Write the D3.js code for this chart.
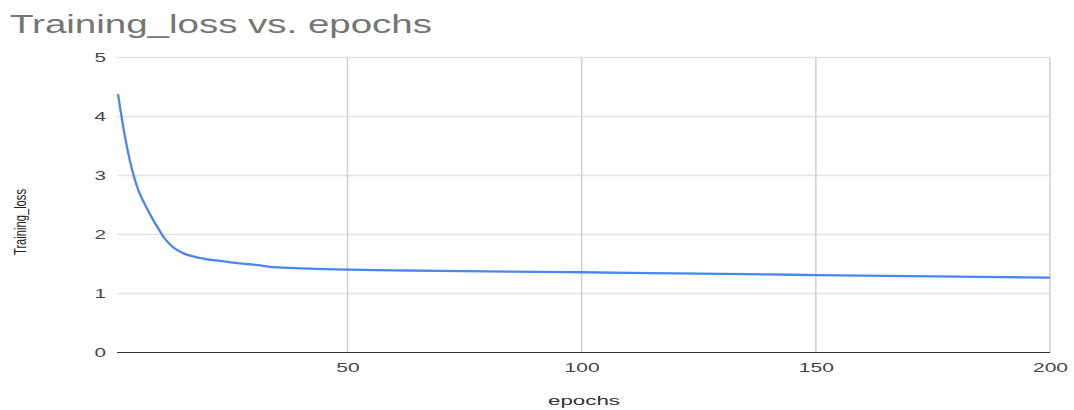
<!DOCTYPE html>
<html>
<head>
<meta charset="utf-8">
<script src="https://cdn.jsdelivr.net/npm/d3@7"></script>
<style>
  html, body { margin: 0; padding: 0; background: #fff; }
  svg { display: block; font-family: "Liberation Sans", Arial, sans-serif; }
</style>
</head>
<body>
<svg id="chart" width="1074" height="410"></svg>
<script>
const title = "Training_loss vs. epochs";
const xLabel = "epochs";
const yLabel = "Training_loss";
const epochs = [1,2,3,4,5,6,7,8,9,10,11,12,13,14,15,16,17,18,19,20,22,24,26,28,30,32,33,36,40,45,50,60,70,80,90,100,110,120,130,140,150,160,170,180,190,200];
const loss = [4.38,3.88,3.45,3.1,2.83,2.63,2.47,2.32,2.18,2.05,1.93,1.84,1.77,1.72,1.68,1.65,1.63,1.61,1.595,1.58,1.56,1.54,1.52,1.503,1.488,1.47,1.455,1.44,1.425,1.413,1.405,1.393,1.383,1.374,1.367,1.36,1.351,1.342,1.333,1.323,1.313,1.303,1.294,1.286,1.278,1.27];
const xTicks = [50, 100, 150, 200];
const yTicks = [0, 1, 2, 3, 4, 5];

const svg = d3.select("#chart");
const plotLeft = 117, plotRight = 1050, plotTop = 57.5, plotBottom = 352.5;

const x = d3.scaleLinear().domain([1, 200]).range([118, plotRight]);
const y = d3.scaleLinear().domain([0, 5]).range([plotBottom, plotTop]);

// horizontal gridlines
svg.append("g").selectAll("line").data(yTicks.filter(d => d > 0)).join("line")
  .attr("x1", plotLeft).attr("x2", plotRight)
  .attr("y1", d => y(d)).attr("y2", d => y(d))
  .attr("stroke", "#e3e3e3").attr("stroke-width", 1.5);

// vertical gridlines
svg.append("g").selectAll("line").data(xTicks).join("line")
  .attr("x1", d => x(d)).attr("x2", d => x(d))
  .attr("y1", plotTop).attr("y2", plotBottom)
  .attr("stroke", "#d0d0d0").attr("stroke-width", 1.5);

// x axis
const xAxis = svg.append("g").attr("transform", `translate(0,${plotBottom})`)
  .call(d3.axisBottom(x).tickValues(xTicks).tickSize(0).tickPadding(10).tickFormat(d3.format("d")));
xAxis.select(".domain").remove();
xAxis.selectAll("text")
  .attr("font-size", 13).attr("fill", "#444")
  .attr("font-family", "Liberation Sans, Arial, sans-serif")
  .attr("textLength", d => String(d).length * 11.7)
  .attr("lengthAdjust", "spacingAndGlyphs");

svg.append("line")
  .attr("x1", plotLeft).attr("x2", plotRight)
  .attr("y1", plotBottom).attr("y2", plotBottom)
  .attr("stroke", "#333").attr("stroke-width", 1.2);

// y axis
const yAxis = svg.append("g").attr("transform", `translate(${plotLeft},0)`)
  .call(d3.axisLeft(y).tickValues(yTicks).tickSize(0).tickPadding(11).tickFormat(d3.format("d")));
yAxis.select(".domain").remove();
yAxis.selectAll("text")
  .attr("font-size", 13).attr("fill", "#444")
  .attr("font-family", "Liberation Sans, Arial, sans-serif")
  .attr("textLength", 11.5)
  .attr("lengthAdjust", "spacingAndGlyphs");

// line
const line = d3.line().x((d, i) => x(epochs[i])).y(d => y(d)).curve(d3.curveMonotoneX);
svg.append("path").datum(loss)
  .attr("d", line)
  .attr("fill", "none")
  .attr("stroke", "#4a86f0")
  .attr("stroke-width", 2.3)
  .attr("stroke-linejoin", "round");

// title
svg.append("text")
  .attr("x", 10).attr("y", 33)
  .attr("font-size", 25).attr("fill", "#757575")
  .attr("textLength", 422).attr("lengthAdjust", "spacingAndGlyphs")
  .text(title);

// x label
svg.append("text")
  .attr("x", 584).attr("y", 405)
  .attr("text-anchor", "middle")
  .attr("font-size", 13).attr("fill", "#333")
  .attr("textLength", 72).attr("lengthAdjust", "spacingAndGlyphs")
  .text(xLabel);

// y label
svg.append("text")
  .attr("transform", "translate(26,222) rotate(-90)")
  .attr("text-anchor", "middle")
  .attr("font-size", 17).attr("fill", "#222")
  .attr("textLength", 66).attr("lengthAdjust", "spacingAndGlyphs")
  .text(yLabel);
</script>
</body>
</html>
